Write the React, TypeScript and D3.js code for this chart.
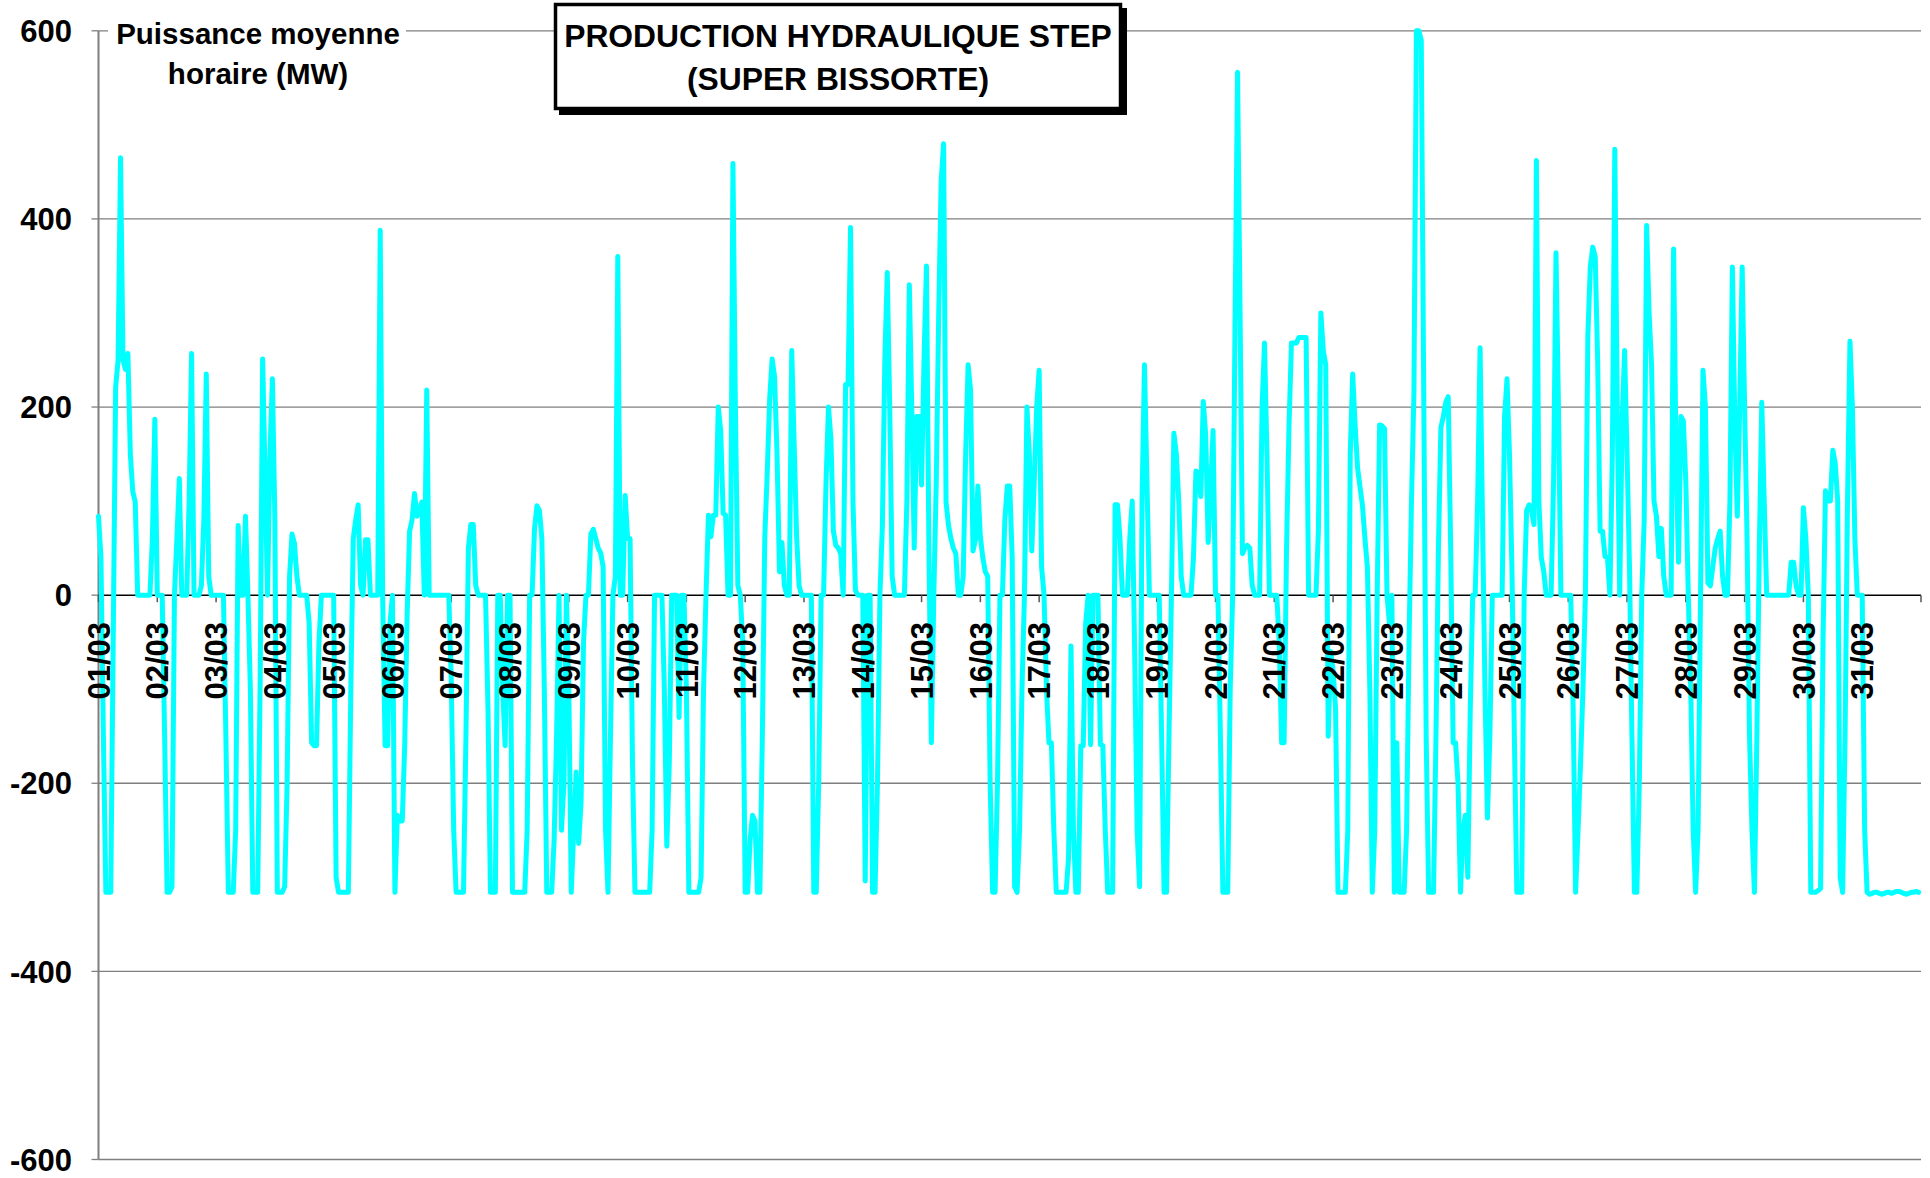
import React from "react";
import * as d3 from "d3";

// ---- data: hourly mean power (MW), one array per day of March ----
const d01 = [84, 40, -150, -316, -316, -316, -50, 221, 250, 465, 250, 240, 257, 150, 110, 99, 0, 0, 0, 0, 0, 0, 60, 187];
const d02 = [0, 0, 0, -150, -316, -316, -310, 0, 60, 124, 0, 0, 0, 100, 257, 0, 0, 0, 10, 80, 235, 20, 0, 0];
const d03 = [0, 0, 0, 0, -150, -316, -316, -316, -250, 74, 0, 0, 84, 0, -100, -316, -316, -316, -90, 251, 130, 0, 150, 230];
const d04 = [80, -316, -316, -316, -310, -200, 20, 65, 55, 20, 0, 0, 0, 0, -30, -157, -160, -160, -50, 0, 0, 0, 0, 0];
const d05 = [0, -300, -316, -316, -316, -316, -316, -100, 60, 80, 96, 10, 0, 59, 59, 0, 0, 0, 0, 388, 0, -160, -160, -30];
const d06 = [0, -316, -234, -240, -240, -160, -20, 68, 80, 108, 84, 90, 99, 0, 218, 0, 0, 0, 0, 0, 0, 0, 0, 0];
const d07 = [-90, -250, -316, -316, -316, -316, -150, 50, 75, 75, 10, 0, 0, 0, 0, -120, -316, -316, -316, 0, 0, -100, -160, 0];
const d08 = [0, -316, -316, -316, -316, -316, -316, -250, 0, 0, 71, 95, 90, 60, -100, -316, -316, -316, -260, -150, 0, -250, -200, 0];
const d09 = [-100, -316, -250, -188, -264, -220, -50, 0, 0, 65, 70, 60, 50, 45, 30, -250, -316, -150, 0, 20, 360, 0, 0, 106];
const d10 = [60, 60, -180, -316, -316, -316, -316, -316, -316, -316, -250, 0, 0, 0, 0, -100, -267, -180, 0, 0, 0, -130, 0, 0];
const d11 = [-100, -316, -316, -316, -316, -316, -300, -100, 0, 85, 62, 85, 85, 200, 175, 87, 85, 0, 0, 459, 200, 10, 0, -50];
const d12 = [-316, -316, -260, -234, -240, -316, -316, -150, 62, 130, 209, 251, 232, 150, 25, 56, 10, 0, 0, 260, 160, 62, 10, 0];
const d13 = [0, 0, 0, 0, -316, -316, -200, 0, 0, 120, 200, 166, 68, 53, 50, 44, 0, 224, 224, 391, 100, 5, 0, 0];
const d14 = [0, -304, 0, 0, -316, -316, -200, 0, 74, 250, 343, 200, 20, 0, 0, 0, 0, 0, 100, 330, 200, 50, 190, 190];
const d15 = [117, 250, 350, 50, -157, 0, 120, 300, 440, 480, 99, 74, 60, 50, 44, 0, 0, 20, 150, 245, 218, 47, 59, 116];
const d16 = [62, 40, 25, 20, -200, -316, -316, -200, 0, 0, 80, 116, 116, 40, -310, -316, -250, -100, 0, 200, 150, 47, 120, 200];
const d17 = [239, 30, 0, -100, -157, -157, -250, -316, -316, -316, -316, -316, -280, -54, -250, -316, -316, -160, -160, -30, 0, -159, 0, 0];
const d18 = [0, -159, -160, -250, -316, -316, -316, 96, 96, 60, 0, 0, 0, 60, 100, -60, -250, -310, 100, 245, 123, 0, 0, 0];
const d19 = [0, 0, -150, -316, -316, -150, 0, 172, 150, 100, 20, 0, 0, 0, 0, 40, 132, 130, 105, 206, 170, 56, 110, 175];
const d20 = [0, 0, -150, -316, -316, -316, -100, 0, 300, 556, 306, 44, 50, 53, 50, 10, 0, 0, 0, 200, 268, 150, 0, 0];
const d21 = [0, 0, -50, -157, -157, 50, 180, 268, 268, 268, 274, 274, 274, 274, 0, 0, 0, 0, 68, 300, 260, 245, -150, -60];
const d22 = [-80, -120, -316, -316, -316, -316, -250, 150, 235, 180, 135, 115, 95, 60, 30, -100, -316, -250, 0, 181, 180, 177, 0, -30];
const d23 = [0, -316, -157, -316, -316, -316, -250, -50, 100, 215, 600, 600, 590, 215, -150, -316, -316, -316, -150, 50, 178, 190, 205, 211];
const d24 = [50, -157, -157, -200, -316, -250, -234, -300, -120, 0, 0, 100, 263, 80, -100, -237, -150, 0, 0, 0, 0, 0, 190, 230];
const d25 = [150, 30, -150, -316, -316, -316, 0, 90, 96, 90, 75, 462, 100, 40, 25, 0, 0, 0, 120, 364, 200, 0, 0, 0];
const d26 = [0, 0, -120, -316, -250, -180, -100, 0, 276, 349, 370, 360, 250, 68, 68, 41, 40, 0, 150, 474, 200, 0, 184, 260];
const d27 = [150, 30, -150, -316, -316, -200, 0, 80, 393, 300, 245, 100, 84, 41, 71, 20, 0, 0, 0, 368, 150, 35, 190, 185];
const d28 = [120, 0, -100, -250, -316, -250, 0, 239, 200, 13, 10, 30, 50, 60, 68, 20, 0, 0, 100, 349, 184, 84, 200, 349];
const d29 = [200, 60, -150, -250, -316, -150, 50, 205, 100, 0, 0, 0, 0, 0, 0, 0, 0, 0, 0, 35, 35, 10, 0, 0];
const d30 = [93, 60, 0, -316, -316, -316, -314, -312, -50, 111, 100, 100, 154, 140, 100, -300, -316, -150, 100, 270, 200, 60, 0, 0];
const d31 = [0, -250, -316, -318, -317, -316, -316, -317, -318, -317, -316, -316, -317, -316, -315, -315, -316, -317, -318, -317, -316, -316, -315, -316];

const days = [d01, d02, d03, d04, d05, d06, d07, d08, d09, d10, d11, d12, d13, d14, d15, d16, d17, d18, d19, d20, d21, d22, d23, d24, d25, d26, d27, d28, d29, d30, d31];

const dayLabels = [
  "01/03", "02/03", "03/03", "04/03", "05/03", "06/03", "07/03", "08/03", "09/03", "10/03",
  "11/03", "12/03", "13/03", "14/03", "15/03", "16/03", "17/03", "18/03", "19/03", "20/03",
  "21/03", "22/03", "23/03", "24/03", "25/03", "26/03", "27/03", "28/03", "29/03", "30/03", "31/03",
];
const yTicks = [-600, -400, -200, 0, 200, 400, 600];
const titleLines = ["PRODUCTION HYDRAULIQUE STEP", "(SUPER BISSORTE)"];
const unitLines = ["Puissance moyenne", "horaire (MW)"];

const W = 1930;
const H = 1178;
const FONT = "'Liberation Sans', Arial, sans-serif";

export default function App() {
  const hourly: number[] = days.flat();
  const nHours = days.length * 24;

  const x = d3.scaleLinear().domain([0, nHours]).range([98.5, 1921]);
  const y = d3.scaleLinear().domain([-600, 600]).range([1159.5, 30.8]);

  const line = d3
    .line<number>()
    .x((_, i) => x(i))
    .y((d) => y(d));

  const dayTicks = d3.range(0, nHours + 1, 24);

  return (
    <div style={{ position: "absolute", left: 0, top: 0 }}>
      <svg width={W} height={H} style={{ display: "block", background: "#fff" }} fontFamily={FONT}>
        <rect x={0} y={0} width={W} height={H} fill="#fff" />
        {/* grid lines */}
        {yTicks.filter((t) => t !== 0).map((t) => (
          <line key={"g" + t} x1={x(0)} x2={x(nHours)} y1={y(t)} y2={y(t)} stroke="#7f7f7f" strokeWidth={1.3} />
        ))}
        {/* y ticks */}
        {yTicks.map((t) => (
          <line key={"yt" + t} x1={x(0) - 7} x2={x(0)} y1={y(t)} y2={y(t)} stroke="#7f7f7f" strokeWidth={1.3} />
        ))}
        {/* y axis */}
        <line x1={x(0)} x2={x(0)} y1={y(600)} y2={y(-600)} stroke="#7f7f7f" strokeWidth={2} />
        {/* y labels */}
        {yTicks.map((t) => (
          <text key={"yl" + t} x={72} y={y(t)} dy="0.36em" textAnchor="end" fontSize={31} fontWeight="bold" fill="#000">
            {t}
          </text>
        ))}
        {/* x axis at zero */}
        <line x1={x(0)} x2={x(nHours)} y1={y(0)} y2={y(0)} stroke="#000" strokeWidth={1.5} />
        {dayTicks.map((t) => (
          <line key={"xt" + t} x1={x(t)} x2={x(t)} y1={y(0)} y2={y(0) + 7} stroke="#555" strokeWidth={1.5} />
        ))}
        {/* series */}
        <path d={line(hourly) ?? ""} fill="none" stroke="#00ffff" strokeWidth={5} strokeLinejoin="round" strokeLinecap="round" />
        {/* x labels (drawn above the series) */}
        {dayLabels.map((lab, i) => (
          <text
            key={lab}
            transform={`translate(${x(i * 24)},622) rotate(-90)`}
            dy="0.36em"
            textAnchor="end"
            fontSize={31}
            fontWeight="bold"
            fill="#000"
          >
            {lab}
          </text>
        ))}
        {/* unit label */}
        <rect x={108} y={14} width={298} height={80} fill="#fff" />
        {unitLines.map((l, i) => (
          <text key={l} x={258} y={33 + i * 40} dy="0.36em" textAnchor="middle" fontSize={29.5} fontWeight="bold" fill="#000">
            {l}
          </text>
        ))}
        {/* title box */}
        <rect x={559} y={8} width={568} height={107} fill="#000" />
        <rect x={555.5} y={4.5} width={565} height={104} fill="#fff" stroke="#000" strokeWidth={3.5} />
        {titleLines.map((l, i) => (
          <text key={l} x={838} y={36 + i * 43} dy="0.36em" textAnchor="middle" fontSize={31.8} fontWeight="bold" fill="#000">
            {l}
          </text>
        ))}
      </svg>
    </div>
  );
}
